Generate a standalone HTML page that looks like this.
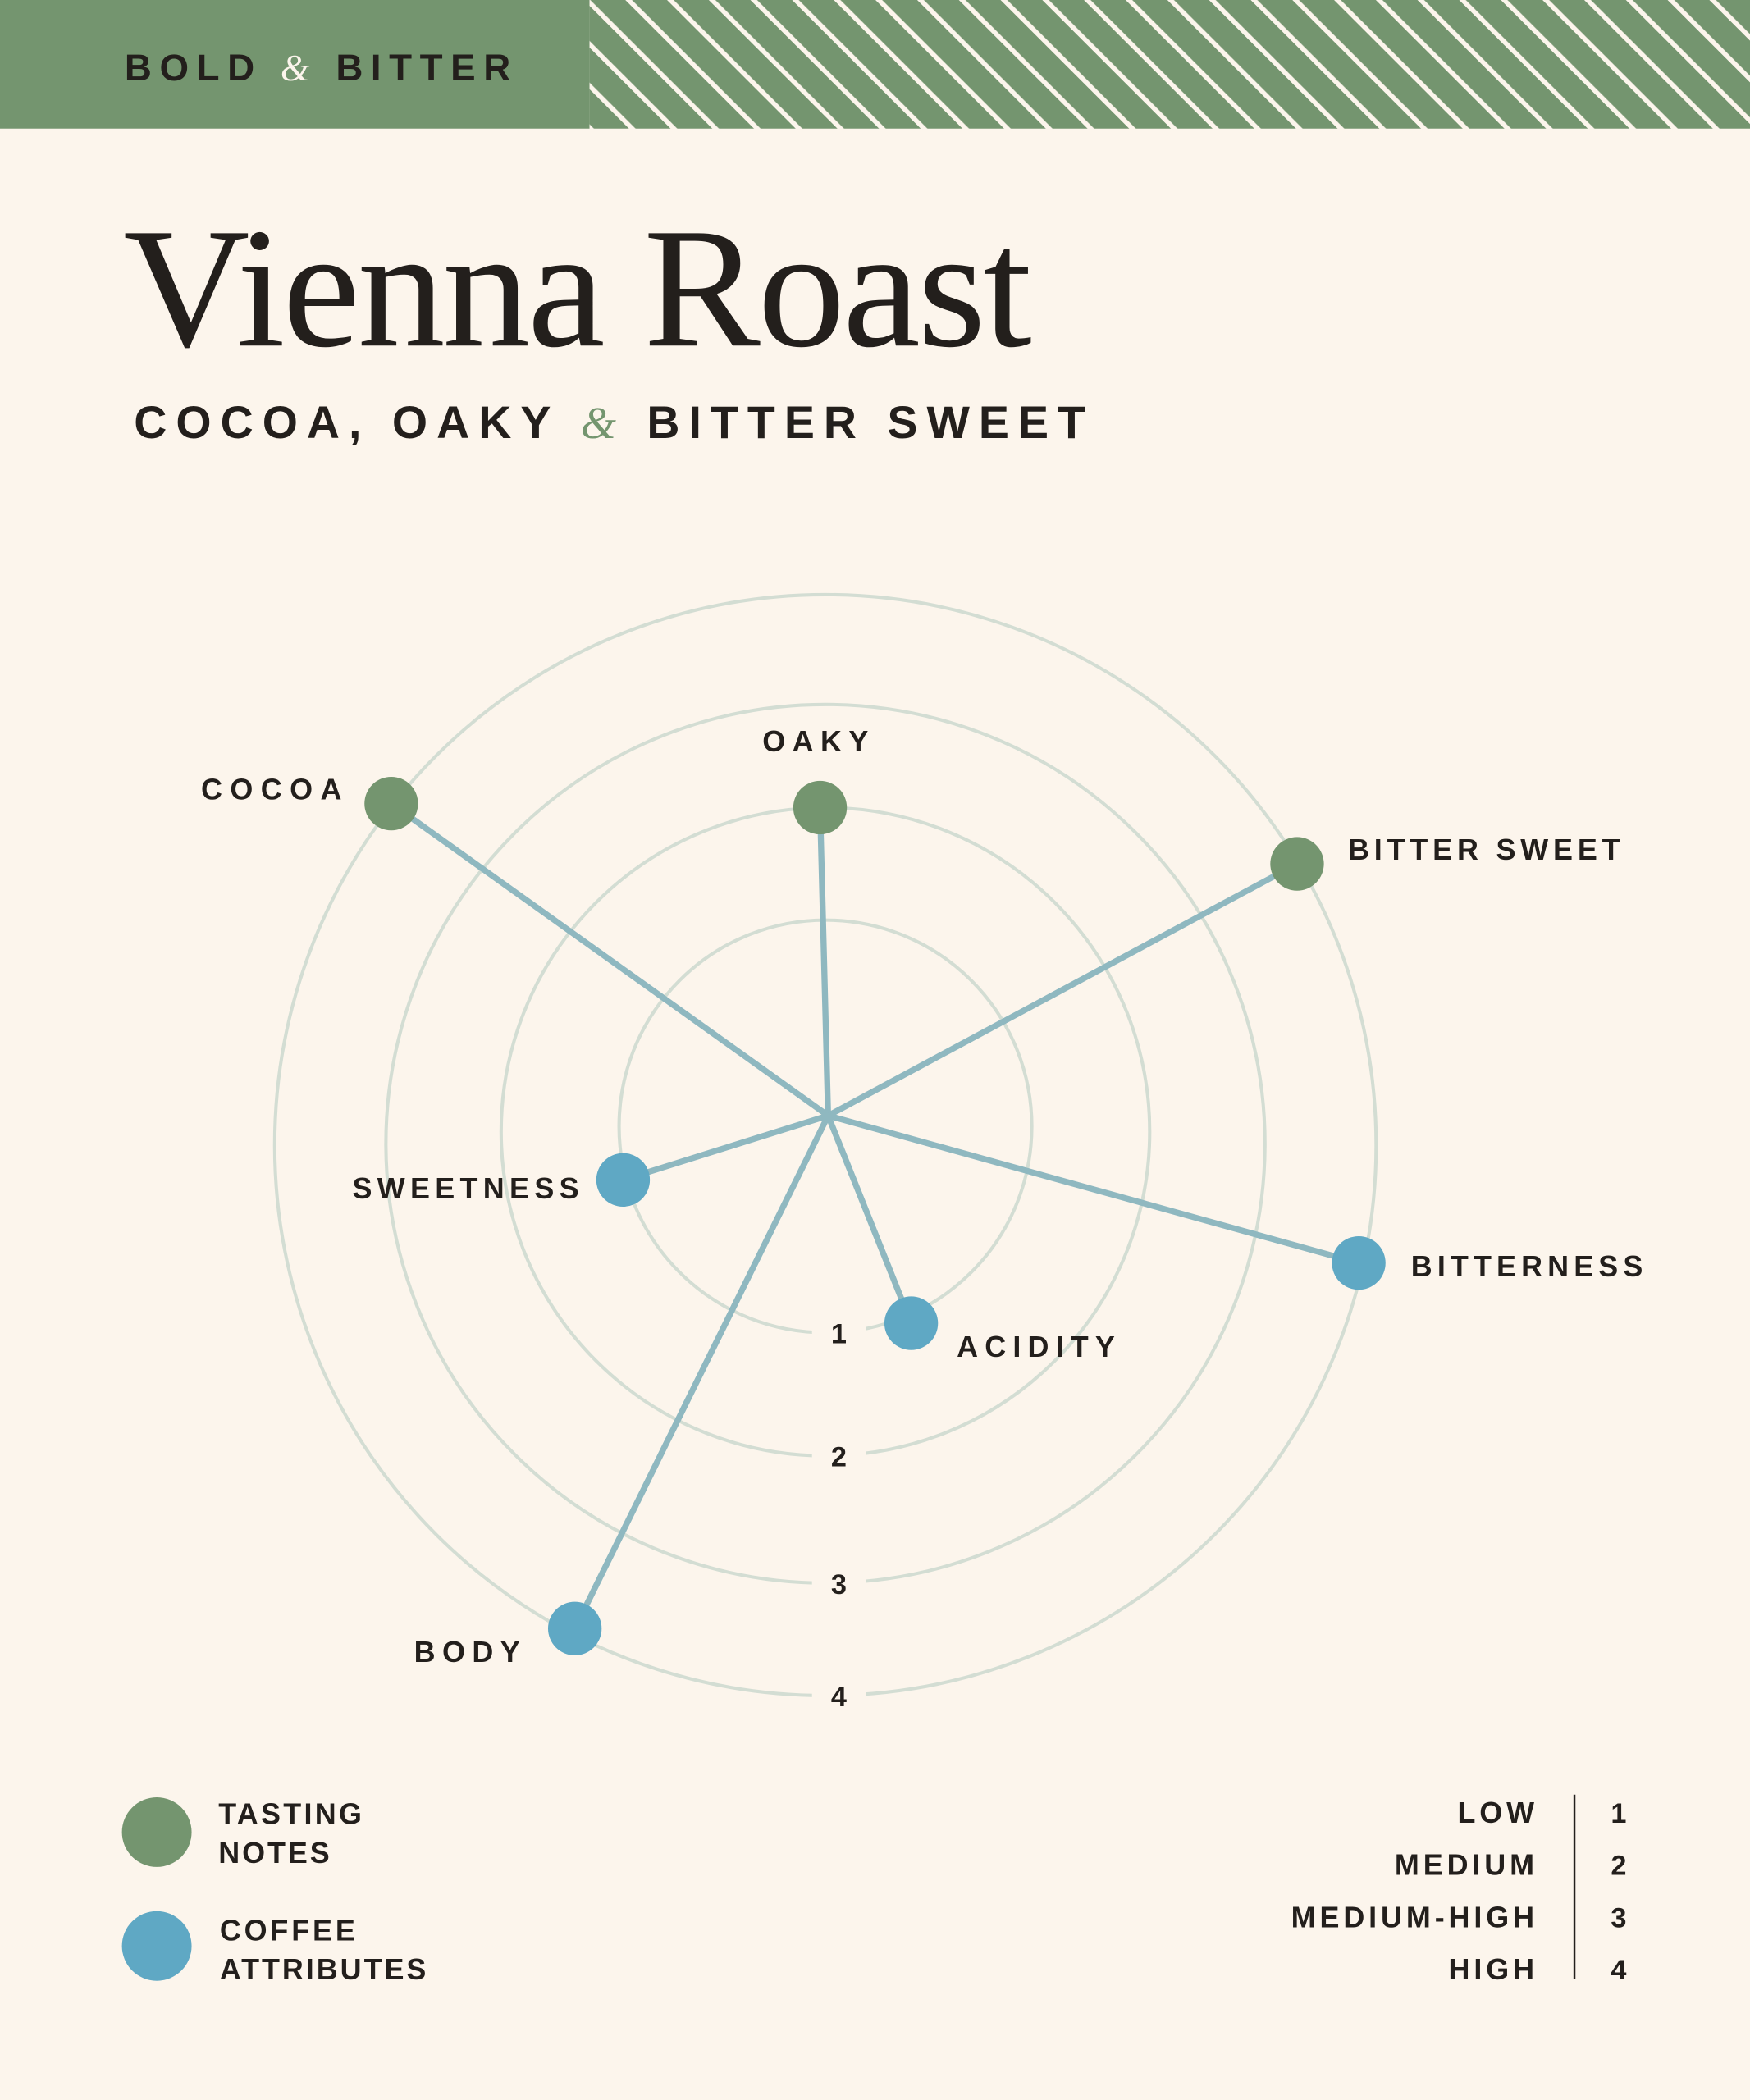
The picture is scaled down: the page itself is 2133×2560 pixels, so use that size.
<!DOCTYPE html>
<html><head><meta charset="utf-8"><style>
html,body{margin:0;padding:0;background:#fcf5ec;}
svg{display:block;width:2133px;height:2560px;}
text{font-family:"Liberation Sans",sans-serif;font-weight:bold;fill:#231f1c;}
.l{font-size:22px;letter-spacing:3px;}
.n{font-size:21px;}
</style></head><body>
<svg viewBox="0 0 1306 1568" preserveAspectRatio="none" xmlns="http://www.w3.org/2000/svg">
<defs>
<pattern id="st" width="22" height="22" patternUnits="userSpaceOnUse" patternTransform="rotate(-45)">
<rect width="22" height="22" fill="#74956f"/><rect x="0" y="0" width="3.5" height="22" fill="#fcf5ec"/>
</pattern>
</defs>
<rect width="1306" height="1568" fill="#fcf5ec"/>
<rect x="0" y="0" width="440" height="96" fill="#74956f"/>
<rect x="440" y="0" width="866" height="96" fill="url(#st)"/>
<text x="93" y="60" style="font-size:28px;letter-spacing:5px" textLength="293">BOLD <tspan style="font-family:'Liberation Serif',serif;font-style:italic;font-weight:normal;fill:#fcf5ec">&amp;</tspan> BITTER</text>
<text x="92" y="258" style="font-family:'Liberation Serif',serif;font-weight:normal;font-size:128px;letter-spacing:-2px" textLength="676" lengthAdjust="spacingAndGlyphs">Vienna Roast</text>
<text x="100" y="327" style="font-size:34px;letter-spacing:8px" textLength="718">COCOA, OAKY <tspan style="font-family:'Liberation Serif',serif;font-style:italic;font-weight:normal;fill:#74956f">&amp;</tspan> BITTER SWEET</text>
<g fill="none" stroke="#d3ddd3" stroke-width="2.5">
<circle cx="616" cy="841" r="154"/>
<circle cx="616" cy="845" r="242"/>
<circle cx="616" cy="854" r="328"/>
<circle cx="616" cy="855" r="411"/>
</g>
<g fill="#fcf5ec"><rect x="606" y="980" width="40" height="30"/><rect x="606" y="1072" width="40" height="30"/><rect x="606" y="1167" width="40" height="30"/><rect x="606" y="1251" width="40" height="30"/></g>
<g class="n" text-anchor="middle"><text x="626" y="1003">1</text><text x="626" y="1095">2</text><text x="626" y="1190">3</text><text x="626" y="1274">4</text></g>
<g stroke="#8fb8c0" stroke-width="4.5" stroke-linecap="round">
<line x1="618" y1="833" x2="292" y2="600"/>
<line x1="618" y1="833" x2="612" y2="603"/>
<line x1="618" y1="833" x2="968" y2="645"/>
<line x1="618" y1="833" x2="1014" y2="943"/>
<line x1="618" y1="833" x2="680" y2="988"/>
<line x1="618" y1="833" x2="429" y2="1216"/>
<line x1="618" y1="833" x2="465" y2="881"/>
</g>
<g fill="#74956f"><circle cx="292" cy="600" r="20"/><circle cx="612" cy="603" r="20"/><circle cx="968" cy="645" r="20"/></g>
<g fill="#5fa8c4"><circle cx="1014" cy="943" r="20"/><circle cx="680" cy="988" r="20"/><circle cx="429" cy="1216" r="20"/><circle cx="465" cy="881" r="20"/></g>
<text class="l" x="150" y="597" textLength="108">COCOA</text>
<text class="l" x="569" y="561" textLength="82">OAKY</text>
<text class="l" x="1006" y="642" textLength="206">BITTER SWEET</text>
<text class="l" x="1053" y="953" textLength="176">BITTERNESS</text>
<text class="l" x="714" y="1013" textLength="121">ACIDITY</text>
<text class="l" x="263" y="895" textLength="172">SWEETNESS</text>
<text class="l" x="309" y="1241" textLength="82">BODY</text>
<circle cx="117" cy="1368" r="26" fill="#74956f"/>
<circle cx="117" cy="1453" r="26" fill="#5fa8c4"/>
<text class="l" x="163" y="1362" textLength="110">TASTING</text>
<text class="l" x="163" y="1391" textLength="86">NOTES</text>
<text class="l" x="164" y="1449" textLength="104">COFFEE</text>
<text class="l" x="164" y="1478" textLength="157">ATTRIBUTES</text>
<g text-anchor="end" class="l">
<text x="1148" y="1361">LOW</text>
<text x="1148" y="1400">MEDIUM</text>
<text x="1148" y="1439">MEDIUM-HIGH</text>
<text x="1148" y="1478">HIGH</text>
</g>
<line x1="1175" y1="1340" x2="1175" y2="1478" stroke="#231f1c" stroke-width="1.5"/>
<g class="n" text-anchor="middle">
<text x="1208" y="1361">1</text><text x="1208" y="1400">2</text><text x="1208" y="1439">3</text><text x="1208" y="1478">4</text>
</g>
</svg>
</body></html>
